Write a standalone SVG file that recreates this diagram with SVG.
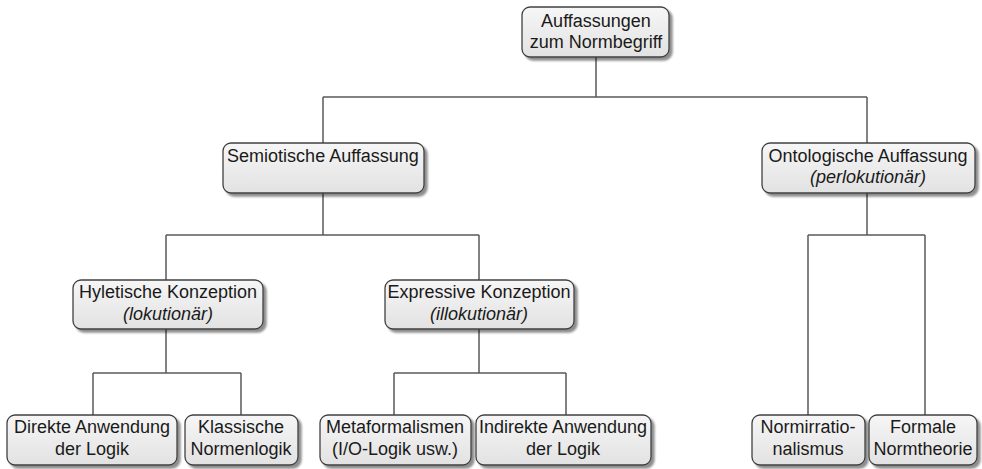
<svg xmlns="http://www.w3.org/2000/svg" width="982" height="469" viewBox="0 0 982 469">
<defs>
<linearGradient id="g" x1="0" y1="0" x2="0" y2="1">
<stop offset="0" stop-color="#f6f6f6"/>
<stop offset="1" stop-color="#e2e2e2"/>
</linearGradient>
<filter id="sh" x="-10%" y="-10%" width="130%" height="140%">
<feGaussianBlur in="SourceAlpha" stdDeviation="1.2"/>
<feOffset dx="3" dy="3" result="b"/>
<feComponentTransfer><feFuncA type="linear" slope="0.45"/></feComponentTransfer>
<feMerge><feMergeNode/><feMergeNode in="SourceGraphic"/></feMerge>
</filter>
</defs>
<style>
.box{fill:url(#g);stroke:#404040;stroke-width:1.3;filter:url(#sh)}
.t{font-family:"Liberation Sans",Arial,sans-serif;font-size:18px;fill:#1a1a1a;text-anchor:middle}
.i{font-style:italic}
.c{fill:none;stroke:#5a5a5a;stroke-width:1.5}
</style>
<g id="connectors">
<path class="c" d="M596,57 V97 M323,97 H867 M323,97 V143 M867,97 V143"/>
<path class="c" d="M323,193 V235 M166,235 H479 M166,235 V280 M479,235 V280"/>
<path class="c" d="M867,193 V235 M808,235 H925 M808,235 V415 M925,235 V415"/>
<path class="c" d="M166,329 V373 M93,373 H241 M93,373 V415 M241,373 V415"/>
<path class="c" d="M479,329 V373 M394,373 H566 M394,373 V415 M566,373 V415"/>
</g>
<g id="root">
<rect class="box" x="522" y="7" width="147" height="50" rx="8"/>
<text class="t" x="596" y="27">Auffassungen</text>
<text class="t" x="596" y="48">zum Normbegriff</text>
</g>
<g id="semiotisch">
<rect class="box" x="223" y="143" width="201" height="50" rx="8"/>
<text class="t" x="323" y="162">Semiotische Auffassung</text>
</g>
<g id="ontologisch">
<rect class="box" x="762" y="143" width="213" height="50" rx="8"/>
<text class="t" x="868" y="162">Ontologische Auffassung</text>
<text class="t i" x="868" y="183">(perlokutionär)</text>
</g>
<g id="hyletisch">
<rect class="box" x="73" y="280" width="190" height="49" rx="8"/>
<text class="t" x="168" y="298">Hyletische Konzeption</text>
<text class="t i" x="168" y="320">(lokutionär)</text>
</g>
<g id="expressiv">
<rect class="box" x="385" y="280" width="189" height="49" rx="8"/>
<text class="t" x="479" y="298">Expressive Konzeption</text>
<text class="t i" x="479" y="320">(illokutionär)</text>
</g>
<g id="direkt">
<rect class="box" x="7" y="415" width="170" height="50" rx="8"/>
<text class="t" x="92" y="433">Direkte Anwendung</text>
<text class="t" x="92" y="455">der Logik</text>
</g>
<g id="klassisch">
<rect class="box" x="185" y="415" width="113" height="50" rx="8"/>
<text class="t" x="241" y="433">Klassische</text>
<text class="t" x="241" y="455">Normenlogik</text>
</g>
<g id="meta">
<rect class="box" x="320" y="415" width="151" height="50" rx="8"/>
<text class="t" x="395" y="433">Metaformalismen</text>
<text class="t" x="395" y="455">(I/O-Logik usw.)</text>
</g>
<g id="indirekt">
<rect class="box" x="476" y="415" width="175" height="50" rx="8"/>
<text class="t" x="563" y="433">Indirekte Anwendung</text>
<text class="t" x="563" y="455">der Logik</text>
</g>
<g id="normirr">
<rect class="box" x="752" y="415" width="113" height="50" rx="8"/>
<text class="t" x="808" y="433">Normirratio-</text>
<text class="t" x="808" y="455">nalismus</text>
</g>
<g id="formal">
<rect class="box" x="869" y="415" width="108" height="50" rx="8"/>
<text class="t" x="923" y="433">Formale</text>
<text class="t" x="923" y="455">Normtheorie</text>
</g>
</svg>
